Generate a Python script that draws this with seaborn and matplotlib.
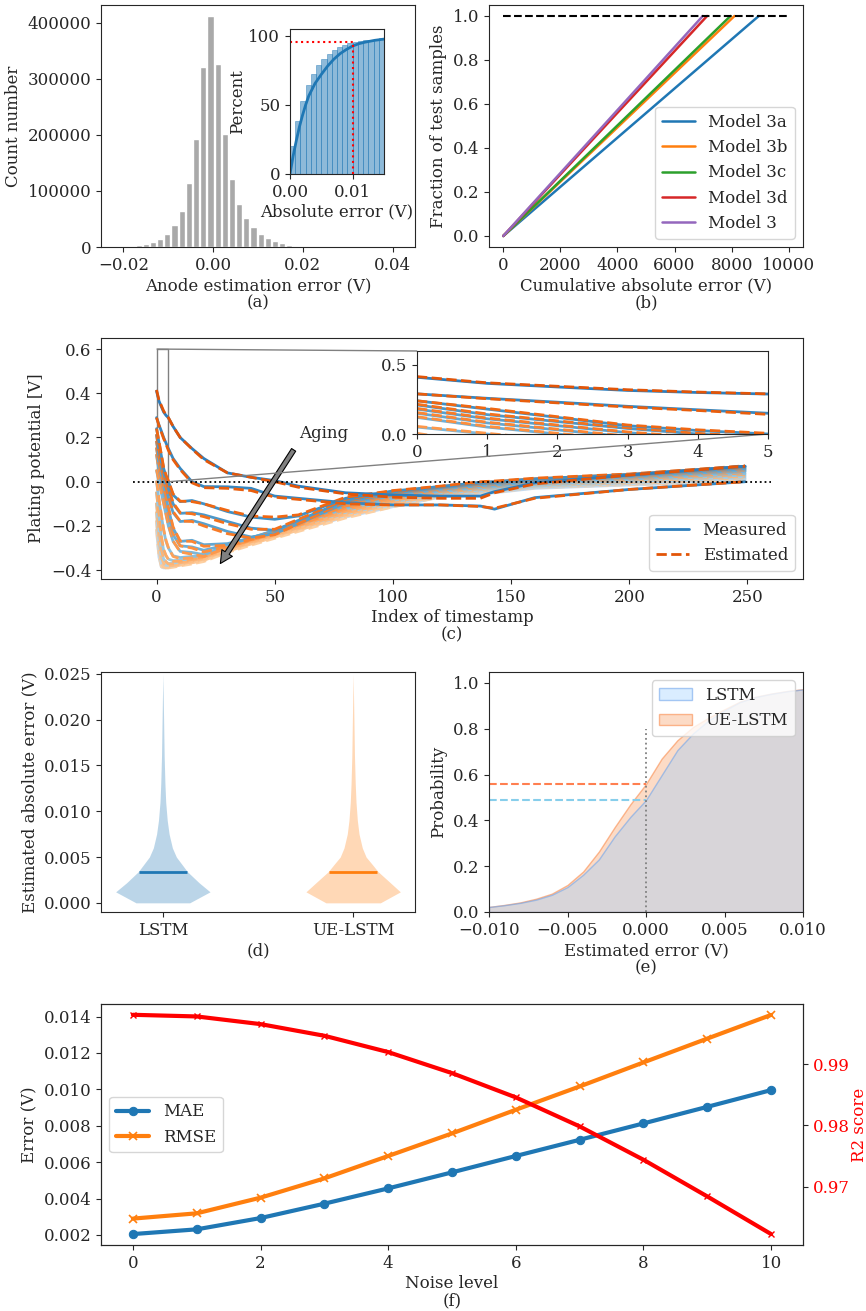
import matplotlib

matplotlib.use("Agg")
import matplotlib.pyplot as plt
import numpy as np
import seaborn as sns
from matplotlib.lines import Line2D
from mpl_toolkits.axes_grid1.inset_locator import mark_inset

W, H = 866, 1311

# (a) anode estimation error histogram
HIST_CENTERS = [-0.0214, -0.0198, -0.0182, -0.0166, -0.0150, -0.0134, -0.0118, -0.0102, -0.0086,
                -0.0070, -0.0054, -0.0038, -0.0022, -0.0006, 0.0010, 0.0026, 0.0042, 0.0058,
                0.0074, 0.0090, 0.0106, 0.0122, 0.0138, 0.0154, 0.0170, 0.0186, 0.0202, 0.0218, 0.0234]
HIST_COUNTS = [500, 1000, 1800, 3000, 4800, 8300, 13700, 22600, 39000,
               65000, 114000, 193000, 321000, 411000, 326000, 201000, 121000, 76000,
               51000, 35000, 24000, 15500, 11000, 6500, 4000, 2400, 1500, 1000, 500]
# (a) inset: cumulative percent of absolute error
CUM_BIN_LEFT = [0.0, 0.00083, 0.00167, 0.0025, 0.00333, 0.00417, 0.005, 0.00583, 0.00667,
                0.0075, 0.00833, 0.00917, 0.01, 0.01083, 0.01167, 0.0125, 0.01333, 0.01417]
CUM_PERCENT = [20.5, 38.6, 53.0, 64.0, 72.5, 78.7, 83.0, 86.7, 89.4,
               91.5, 93.2, 94.4, 95.4, 96.1, 96.6, 97.1, 97.6, 98.0]
CDF_X = [0, 0.0005, 0.001, 0.0015, 0.002, 0.0025, 0.003, 0.004, 0.005, 0.006,
         0.007, 0.008, 0.009, 0.01, 0.011, 0.012, 0.0135, 0.015]
CDF_Y = [0, 13, 24, 34, 42.5, 50, 56.5, 65.5, 72, 78, 83, 87, 90, 92.5, 94.2, 95.3, 96.6, 97.5]
THRESHOLD_ERR = 0.01
THRESHOLD_PCT = 95.2

# (b) cumulative absolute error per model (straight from 0 to full test set)
MODELS = ["Model 3a", "Model 3b", "Model 3c", "Model 3d", "Model 3"]
CUM_ERR_END = [8950, 8100, 7960, 7140, 6990]
CUM_FRACTION = [0.0, 1.0]
CUM_ERR_AXIS = [0, 10000]

# (c) plating potential, measured vs estimated, young -> aged
PLATING_X = [0, 1, 2, 3, 4, 5, 7, 10, 15, 20, 30, 40, 50, 60, 80, 100, 120, 137, 143, 160, 200, 249]
PLATING_MEASURED = [
    [0.41, 0.366, 0.34, 0.315, 0.30, 0.289, 0.25, 0.20, 0.15, 0.105, 0.04, 0.02, 0.005, -0.02, -0.05, -0.06, -0.065, -0.065, -0.045, -0.005, 0.03, 0.07],
    [0.29, 0.258, 0.23, 0.2, 0.175, 0.15, 0.105, 0.06, 0.0, -0.022, -0.023, -0.03, -0.065, -0.075, -0.095, -0.105, -0.105, -0.11, -0.124, -0.072, -0.035, 0.0],
    [0.24, 0.18, 0.12, 0.06, 0.025, 0.0, -0.06, -0.09, -0.085, -0.1, -0.135, -0.16, -0.17, -0.155, -0.075, -0.042, -0.022, -0.003, 0.0, 0.013, 0.033, 0.07],
    [0.21, 0.14, 0.09, 0.04, 0.0, -0.03, -0.1, -0.143, -0.14, -0.15, -0.18, -0.21, -0.22, -0.175, -0.085, -0.047, -0.025, -0.007, -0.003, 0.01, 0.03, 0.065],
    [0.18, 0.11, 0.06, 0.01, -0.03, -0.07, -0.14, -0.18, -0.175, -0.19, -0.225, -0.25, -0.235, -0.19, -0.095, -0.052, -0.027, -0.01, -0.006, 0.006, 0.027, 0.06],
    [0.15, 0.08, 0.03, -0.02, -0.07, -0.12, -0.21, -0.27, -0.265, -0.285, -0.28, -0.254, -0.22, -0.18, -0.1, -0.057, -0.03, -0.013, -0.01, 0.002, 0.024, 0.055],
    [0.12, 0.05, 0.0, -0.05, -0.1, -0.15, -0.24, -0.29, -0.295, -0.31, -0.285, -0.256, -0.222, -0.185, -0.108, -0.063, -0.035, -0.018, -0.015, -0.002, 0.02, 0.05],
    [0.05, 0.0, -0.05, -0.1, -0.15, -0.2, -0.27, -0.315, -0.32, -0.33, -0.29, -0.258, -0.225, -0.19, -0.115, -0.07, -0.04, -0.023, -0.02, -0.006, 0.015, 0.045],
    [0.0, -0.08, -0.15, -0.22, -0.27, -0.3, -0.335, -0.343, -0.338, -0.332, -0.286, -0.253, -0.222, -0.188, -0.122, -0.077, -0.045, -0.028, -0.025, -0.01, 0.01, 0.037],
    [-0.05, -0.15, -0.25, -0.31, -0.335, -0.35, -0.357, -0.355, -0.345, -0.33, -0.291, -0.258, -0.228, -0.194, -0.13, -0.084, -0.05, -0.033, -0.03, -0.014, 0.005, 0.03],
    [-0.1, -0.22, -0.31, -0.35, -0.362, -0.37, -0.368, -0.362, -0.35, -0.336, -0.296, -0.263, -0.233, -0.2, -0.138, -0.091, -0.055, -0.038, -0.035, -0.018, 0.0, 0.022],
    [-0.14, -0.27, -0.34, -0.37, -0.378, -0.378, -0.375, -0.368, -0.355, -0.342, -0.301, -0.268, -0.238, -0.206, -0.145, -0.098, -0.06, -0.043, -0.04, -0.022, -0.005, 0.015],
    [-0.18, -0.31, -0.37, -0.385, -0.387, -0.383, -0.38, -0.372, -0.36, -0.348, -0.306, -0.273, -0.243, -0.212, -0.152, -0.105, -0.065, -0.048, -0.045, -0.026, -0.01, 0.008],
    [-0.22, -0.34, -0.385, -0.39, -0.39, -0.386, -0.383, -0.376, -0.365, -0.353, -0.311, -0.278, -0.248, -0.218, -0.16, -0.113, -0.07, -0.053, -0.05, -0.03, -0.015, 0.0],
]
PLATING_ESTIMATED = [
    [0.415, 0.37, 0.345, 0.32, 0.303, 0.29, 0.25, 0.2, 0.148, 0.1, 0.04, 0.02, 0.0, -0.025, -0.055, -0.07, -0.075, -0.075, -0.05, -0.01, 0.03, 0.07],
    [0.29, 0.255, 0.225, 0.195, 0.17, 0.142, 0.1, 0.055, -0.005, -0.027, -0.03, -0.04, -0.07, -0.08, -0.1, -0.105, -0.105, -0.112, -0.12, -0.075, -0.035, 0.0],
    [0.24, 0.185, 0.125, 0.065, 0.03, 0.005, -0.055, -0.088, -0.09, -0.1, -0.13, -0.155, -0.16, -0.15, -0.07, -0.04, -0.02, 0.0, 0.003, 0.016, 0.035, 0.072],
    [0.215, 0.145, 0.095, 0.045, 0.005, -0.025, -0.095, -0.14, -0.145, -0.158, -0.19, -0.215, -0.215, -0.17, -0.08, -0.045, -0.022, -0.005, 0.0, 0.013, 0.033, 0.068],
    [0.185, 0.115, 0.065, 0.015, -0.025, -0.065, -0.135, -0.178, -0.18, -0.2, -0.235, -0.255, -0.24, -0.19, -0.09, -0.05, -0.025, -0.008, -0.003, 0.009, 0.03, 0.063],
    [0.155, 0.085, 0.035, -0.015, -0.065, -0.115, -0.205, -0.268, -0.27, -0.292, -0.288, -0.26, -0.225, -0.183, -0.1, -0.055, -0.028, -0.01, -0.007, 0.005, 0.026, 0.058],
    [0.125, 0.055, 0.005, -0.045, -0.095, -0.145, -0.235, -0.29, -0.3, -0.318, -0.292, -0.262, -0.228, -0.19, -0.11, -0.062, -0.033, -0.016, -0.012, 0.001, 0.022, 0.053],
    [0.055, 0.005, -0.045, -0.095, -0.145, -0.195, -0.268, -0.318, -0.328, -0.338, -0.297, -0.264, -0.232, -0.196, -0.118, -0.07, -0.038, -0.021, -0.017, -0.003, 0.017, 0.048],
    [0.005, -0.075, -0.145, -0.215, -0.265, -0.298, -0.338, -0.348, -0.345, -0.34, -0.294, -0.26, -0.23, -0.195, -0.126, -0.078, -0.044, -0.026, -0.022, -0.007, 0.012, 0.04],
    [-0.045, -0.145, -0.245, -0.305, -0.333, -0.352, -0.36, -0.36, -0.352, -0.338, -0.3, -0.266, -0.236, -0.2, -0.134, -0.085, -0.049, -0.031, -0.027, -0.011, 0.007, 0.033],
    [-0.095, -0.215, -0.305, -0.348, -0.362, -0.372, -0.372, -0.367, -0.357, -0.344, -0.305, -0.272, -0.241, -0.207, -0.142, -0.092, -0.054, -0.036, -0.032, -0.015, 0.002, 0.025],
    [-0.135, -0.265, -0.337, -0.37, -0.38, -0.381, -0.379, -0.373, -0.362, -0.35, -0.31, -0.277, -0.246, -0.213, -0.149, -0.099, -0.059, -0.041, -0.037, -0.019, -0.003, 0.018],
    [-0.175, -0.305, -0.368, -0.386, -0.39, -0.387, -0.384, -0.377, -0.367, -0.356, -0.315, -0.282, -0.251, -0.219, -0.156, -0.106, -0.064, -0.046, -0.042, -0.023, -0.008, 0.011],
    [-0.215, -0.335, -0.383, -0.392, -0.394, -0.39, -0.387, -0.381, -0.372, -0.361, -0.32, -0.287, -0.256, -0.225, -0.164, -0.114, -0.069, -0.051, -0.047, -0.027, -0.013, 0.003],
]
ZERO_LINE_X = [-10, 260]
AGING_TAIL = (58, 0.144)
AGING_HEAD = (27, -0.37)

# (d) violin profiles (half-width vs absolute error)
VIOLIN_MODELS = ["LSTM", "UE-LSTM"]
VIOLIN_Y = [0, 0.0012, 0.0022, 0.0034, 0.0042, 0.005, 0.006, 0.0075, 0.009, 0.011, 0.013, 0.016, 0.02, 0.025]
LSTM_HALF_WIDTH = [0.141, 0.248, 0.19, 0.129, 0.1, 0.071, 0.05, 0.033, 0.023, 0.015, 0.011, 0.007, 0.004, 0.0]
UE_HALF_WIDTH = [0.143, 0.248, 0.195, 0.131, 0.1, 0.068, 0.048, 0.031, 0.022, 0.015, 0.011, 0.007, 0.004, 0.0]
VIOLIN_MEDIAN = [0.00332, 0.00338]

# (e) cumulative probability of estimated error
ERR_X = [-0.010, -0.009, -0.008, -0.007, -0.006, -0.005, -0.004, -0.003, -0.002, -0.001, 0.0,
         0.001, 0.002, 0.003, 0.004, 0.005, 0.006, 0.007, 0.008, 0.009, 0.010]
LSTM_CDF = [0.022, 0.03, 0.04, 0.054, 0.075, 0.109, 0.163, 0.23, 0.33, 0.415, 0.489,
            0.598, 0.707, 0.78, 0.837, 0.88, 0.917, 0.939, 0.953, 0.964, 0.972]
UE_CDF = [0.022, 0.031, 0.042, 0.058, 0.08, 0.118, 0.177, 0.264, 0.37, 0.47, 0.559,
          0.67, 0.75, 0.808, 0.849, 0.885, 0.919, 0.94, 0.954, 0.965, 0.973]
CDF_MARK_TOP = 0.8

# (f) robustness to noise
NOISE_LEVEL = [0, 1, 2, 3, 4, 5, 6, 7, 8, 9, 10]
MAE = [0.00205, 0.00231, 0.00293, 0.00372, 0.00456, 0.00544, 0.00634, 0.00723, 0.00813, 0.00904, 0.00996]
RMSE = [0.0029, 0.00319, 0.00405, 0.00511, 0.00634, 0.00758, 0.00888, 0.01016, 0.01148, 0.01279, 0.01409]
R2 = [0.99804, 0.99777, 0.99652, 0.99462, 0.99196, 0.98853, 0.98457, 0.97984, 0.9744, 0.96842, 0.96228]


def px_rect(x0, y0, x1, y1):
    return [x0 / W, 1 - y1 / H, (x1 - x0) / W, (y1 - y0) / H]


def two_line_xlabel(ax, text):
    ax.set_xlabel(text, linespacing=1.05, labelpad=2.5)


sns.set_theme(
    style="ticks",
    palette="tab10",
    rc={
        "axes.linewidth": 0.8,
        "axes.edgecolor": "0.15",
        "xtick.major.size": 3.5,
        "ytick.major.size": 3.5,
        "xtick.major.width": 0.8,
        "ytick.major.width": 0.8,
        "font.size": 12,
        "axes.labelsize": 12,
        "xtick.labelsize": 12,
        "ytick.labelsize": 12,
        "legend.fontsize": 12,
    },
)
plt.rcParams["font.family"] = ["DejaVu Serif"]

fig = plt.figure(figsize=(W / 100, H / 100), dpi=100)

# ---- (a)
ax = fig.add_axes(px_rect(101, 5, 415, 247))
ax.bar(HIST_CENTERS, HIST_COUNTS, width=0.00138, color="darkgray")
ax.set_xlim(-0.025, 0.045)
ax.set_ylim(0, 431500)
ax.set_xticks([-0.02, 0.0, 0.02, 0.04])
ax.set_yticks([0, 100000, 200000, 300000, 400000])
two_line_xlabel(ax, "Anode estimation error (V)\n(a)")
ax.set_ylabel("Count number")

axin = fig.add_axes(px_rect(290, 29, 384, 174))
axin.bar(CUM_BIN_LEFT, CUM_PERCENT, width=0.00083, align="edge", color="C0", alpha=0.5,
         edgecolor="C0", linewidth=0.6)
sns.lineplot(x=CDF_X, y=CDF_Y, ax=axin, color="C0", linewidth=2)
axin.plot([0, THRESHOLD_ERR], [THRESHOLD_PCT, THRESHOLD_PCT], color="red", ls=":", lw=1.5)
axin.plot([THRESHOLD_ERR, THRESHOLD_ERR], [0, THRESHOLD_PCT], color="red", ls=":", lw=1.5)
axin.set_xlim(0, 0.015)
axin.set_ylim(0, 104.8)
axin.set_xticks([0.0, 0.01])
axin.set_yticks([0, 50, 100])
axin.set_xlabel("Absolute error (V)", labelpad=2)
axin.set_ylabel("Percent", labelpad=2)

# ---- (b)
ax = fig.add_axes(px_rect(489, 5, 803, 247))
for i, (name, end) in enumerate(zip(MODELS, CUM_ERR_END)):
    sns.lineplot(x=[0, end], y=CUM_FRACTION, ax=ax, color=f"C{i}", linewidth=1.8, label=name)
ax.plot(CUM_ERR_AXIS, [1.0, 1.0], color="black", ls="--", lw=1.5)
ax.set_xlim(-500, 10500)
ax.set_ylim(-0.05, 1.05)
ax.set_xticks([0, 2000, 4000, 6000, 8000, 10000])
ax.set_yticks([0.0, 0.2, 0.4, 0.6, 0.8, 1.0])
two_line_xlabel(ax, "Cumulative absolute error (V)\n(b)")
ax.set_ylabel("Fraction of test samples")
ax.legend(loc="lower right")

# ---- (c)
ax = fig.add_axes(px_rect(101, 338, 803, 579))
axc = fig.add_axes(px_rect(417, 351, 768, 434))
n = len(PLATING_MEASURED)
blues = plt.cm.Blues(np.linspace(0.7, 0.25, n))
oranges = plt.cm.Oranges(np.linspace(0.7, 0.25, n))
for target in (ax, axc):
    for i in reversed(range(n)):
        target.plot(PLATING_X, PLATING_MEASURED[i], color=blues[i], lw=2)
        target.plot(PLATING_X, PLATING_ESTIMATED[i], color=oranges[i], lw=2, ls="--")
ax.plot(ZERO_LINE_X, [0, 0], color="black", ls=":", lw=1.3)
ax.set_xlim(-23.5, 273.5)
ax.set_ylim(-0.44, 0.65)
ax.set_xticks([0, 50, 100, 150, 200, 250])
ax.set_yticks([-0.4, -0.2, 0.0, 0.2, 0.4, 0.6])
two_line_xlabel(ax, "Index of timestamp\n(c)")
ax.set_ylabel("Plating potential [V]")
ax.annotate("", xy=AGING_HEAD, xytext=AGING_TAIL,
            arrowprops=dict(facecolor="gray", edgecolor="black", width=3.5, headwidth=9,
                            headlength=9, lw=0.8))
ax.text(60.4, 0.197, "Aging", fontsize=12)
ax.legend(handles=[Line2D([], [], color=blues[0], lw=2, label="Measured"),
                   Line2D([], [], color=oranges[0], lw=2, ls="--", label="Estimated")],
          loc="lower right")
axc.set_xlim(0, 5)
axc.set_ylim(0, 0.6)
axc.set_xticks([0, 1, 2, 3, 4, 5])
axc.set_yticks([0.0, 0.5])
mark_inset(ax, axc, loc1=2, loc2=4, fc="none", ec="0.5", lw=1)

# ---- (d)
ax = fig.add_axes(px_rect(101, 672, 415, 912))
for pos, (hw, med, col) in enumerate(zip([LSTM_HALF_WIDTH, UE_HALF_WIDTH], VIOLIN_MEDIAN, ["C0", "C1"])):
    hw = np.asarray(hw)
    ax.fill_betweenx(VIOLIN_Y, pos - hw, pos + hw, color=col, alpha=0.3, lw=0)
    ax.hlines(med, pos - 0.125, pos + 0.125, color=col, lw=2)
ax.set_xlim(-0.325, 1.325)
ax.set_ylim(-0.001, 0.0252)
ax.set_xticks([0, 1])
ax.set_xticklabels(VIOLIN_MODELS)
ax.set_yticks([0.0, 0.005, 0.01, 0.015, 0.02, 0.025])
two_line_xlabel(ax, "(d)")
ax.set_ylabel("Estimated absolute error (V)")

# ---- (e)
ax = fig.add_axes(px_rect(489, 672, 803, 912))
ue = ax.fill_between(ERR_X, UE_CDF, 0, facecolor=(0.97, 0.6, 0.37, 0.35),
                     edgecolor=(0.98, 0.55, 0.3, 0.6), lw=1, label="UE-LSTM")
ls = ax.fill_between(ERR_X, LSTM_CDF, 0, facecolor=(0.59, 0.8, 1.0, 0.35),
                     edgecolor=(0.45, 0.65, 0.92, 0.6), lw=1, label="LSTM")
ax.plot([ERR_X[0], 0], [UE_CDF[10], UE_CDF[10]], color="coral", ls="--", lw=1.5)
ax.plot([ERR_X[0], 0], [LSTM_CDF[10], LSTM_CDF[10]], color="skyblue", ls="--", lw=1.5)
ax.plot([0, 0], [0, CDF_MARK_TOP], color="gray", ls=":", lw=1.3)
ax.set_xlim(-0.01, 0.01)
ax.set_ylim(0, 1.048)
ax.set_xticks([-0.01, -0.005, 0.0, 0.005, 0.01])
ax.set_yticks([0.0, 0.2, 0.4, 0.6, 0.8, 1.0])
two_line_xlabel(ax, "Estimated error (V)\n(e)")
ax.set_ylabel("Probability")
ax.legend(handles=[ls, ue], loc="upper right")

# ---- (f)
ax = fig.add_axes(px_rect(101, 1004, 803, 1245))
sns.lineplot(x=NOISE_LEVEL, y=MAE, ax=ax, color="C0", linewidth=3, marker="o", markersize=6,
             markeredgecolor="C0", label="MAE")
sns.lineplot(x=NOISE_LEVEL, y=RMSE, ax=ax, color="C1", linewidth=3, marker="x", markersize=6,
             markeredgecolor="C1", markeredgewidth=1.2, label="RMSE")
ax.set_xlim(-0.5, 10.5)
ax.set_ylim(0.00145, 0.01469)
ax.set_xticks([0, 2, 4, 6, 8, 10])
ax.set_yticks([0.002, 0.004, 0.006, 0.008, 0.010, 0.012, 0.014])
two_line_xlabel(ax, "Noise level\n(f)")
ax.set_ylabel("Error (V)")
ax.legend(loc="center left")
ax2 = ax.twinx()
sns.lineplot(x=NOISE_LEVEL, y=R2, ax=ax2, color="red", linewidth=3, marker="x", markersize=5,
             markeredgecolor="red", markeredgewidth=1.0)
ax2.set_ylim(0.9605, 0.9998)
ax2.set_yticks([0.97, 0.98, 0.99])
ax2.tick_params(axis="y", labelcolor="red")
ax2.set_ylabel("R2 score", color="red", labelpad=1)
ax2.spines["right"].set_visible(True)

fig.savefig("out.png", dpi=100)
